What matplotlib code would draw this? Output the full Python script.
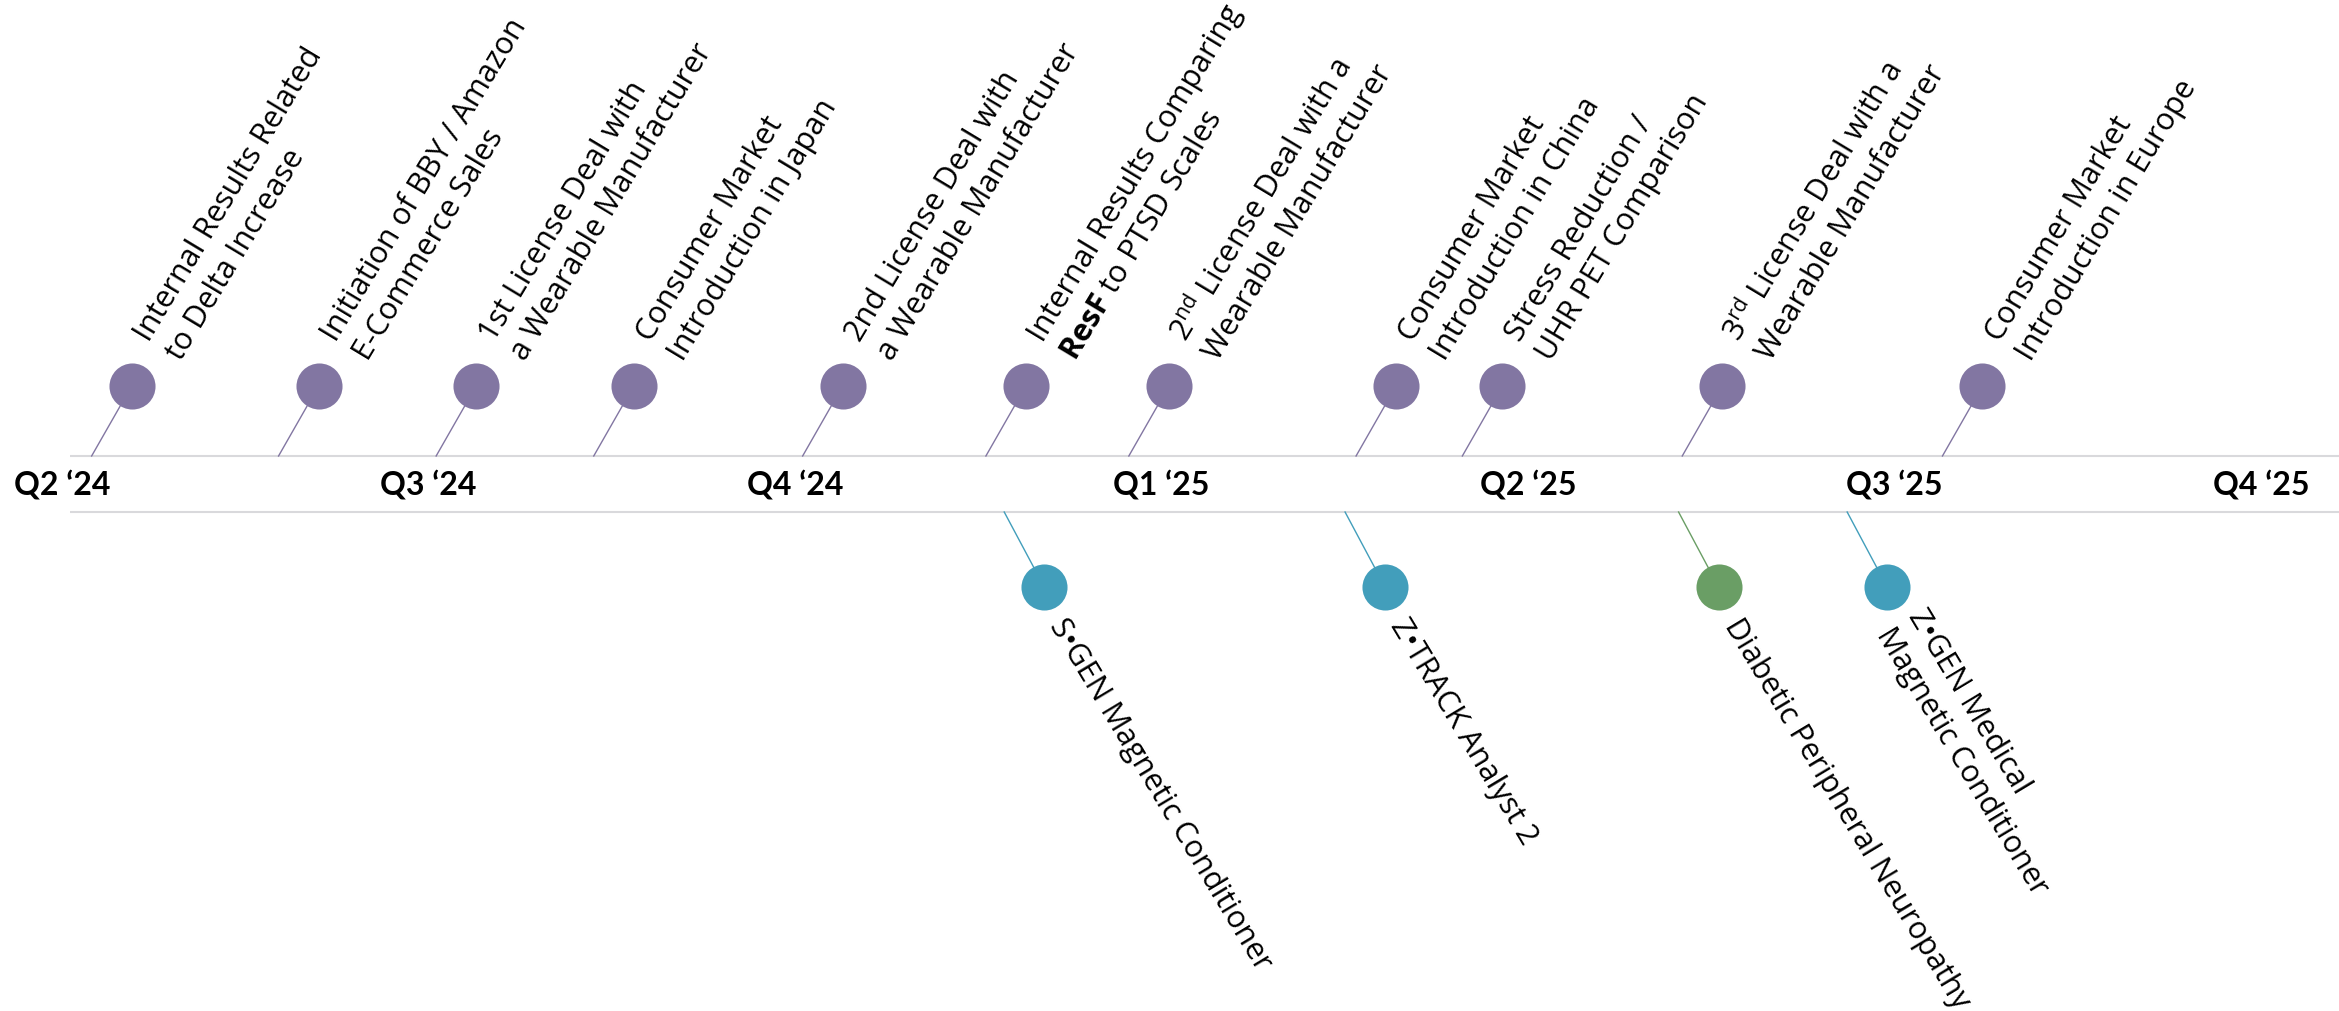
import matplotlib.pyplot as plt

plt.rcParams['font.family'] = ['Open Sans', 'DejaVu Sans']
plt.rcParams['mathtext.fontset'] = 'custom'
plt.rcParams['mathtext.rm'] = 'Open Sans'
plt.rcParams['mathtext.bf'] = 'Open Sans:bold'

## Data
quarters = ['Q2 \u201824', 'Q3 \u201824', 'Q4 \u201824', 'Q1 \u201825',
            'Q2 \u201825', 'Q3 \u201825', 'Q4 \u201825']

# events above the band (position in quarters after Q2 '24)
top_x = [0.19, 0.70, 1.13, 1.56, 2.13, 2.63, 3.02, 3.64, 3.93, 4.53, 5.24]
top_labels = [
    'Internal Results Related\nto Delta Increase',
    'Initiation of BBY / Amazon\nE-Commerce Sales',
    '1st License Deal with\na Wearable Manufacturer',
    'Consumer Market\nIntroduction in Japan',
    '2nd License Deal with\na Wearable Manufacturer',
    'Internal Results Comparing\n$\\mathbf{ResF}$ to PTSD Scales',
    '2$^{\\mathrm{nd}}$ License Deal with a\nWearable Manufacturer',
    'Consumer Market\nIntroduction in China',
    'Stress Reduction /\nUHR PET Comparison',
    '3$^{\\mathrm{rd}}$ License Deal with a\nWearable Manufacturer',
    'Consumer Market\nIntroduction in Europe',
]

# events below the band
bottom_x = [2.68, 3.61, 4.52, 4.98]
bottom_labels = [
    'S\u2022GEN Magnetic Conditioner',
    'Z\u2022TRACK Analyst 2',
    'Diabetic Peripheral Neuropathy',
    'Z\u2022GEN Medical\nMagnetic Conditioner',
]
bottom_kind = ['device', 'device', 'clinical', 'device']

purple = '#8276a2'
colors = {'device': '#429ebb', 'clinical': '#6a9e65'}

## Layout (pixels)
W, H = 2339, 1012
PX = 366.5          # pixels per quarter
X0 = 62             # pixel of Q2 '24
band_top, band_bot = 457, 513
top_y, bot_y = 387, 588
lean = 40 / PX      # connector slant

fig = plt.figure(figsize=(W / 100, H / 100), dpi=100)
ax = fig.add_axes([0, 0, 1, 1])
ax.set_xlim(-X0 / PX, (W - X0) / PX)
ax.set_ylim(H, 0)
ax.axis('off')

# band
ax.hlines([band_top, band_bot], (70 - X0) / PX, (W - X0) / PX,
          color='#d9d9dc', lw=1.5, zorder=1)
for i, q in enumerate(quarters):
    ax.text(i, (band_top + band_bot) / 2, q, ha='center', va='center',
            fontsize=23, fontweight='bold', family=['Lato', 'DejaVu Sans'])

# top events
for x, lab in zip(top_x, top_labels):
    ax.plot([x - lean, x], [band_top, top_y], color=purple, lw=1, zorder=2)
    ax.scatter(x, top_y, s=1100, color=purple, zorder=3, linewidths=0)
    ax.text(x + 55 / PX, 366, lab, rotation=59, rotation_mode='anchor',
            ha='left', va='bottom', fontsize=22, linespacing=1.3)

# bottom events
for x, lab, k in zip(bottom_x, bottom_labels, bottom_kind):
    c = colors[k]
    ax.plot([x - lean, x], [band_bot, bot_y], color=c, lw=1, zorder=2)
    ax.scatter(x, bot_y, s=1100, color=c, zorder=3, linewidths=0)
    ax.text(x + 12 / PX, 621, lab, rotation=-59, rotation_mode='anchor',
            ha='left', va='center', fontsize=22, linespacing=1.3)

plt.savefig('out.png', dpi=100)
